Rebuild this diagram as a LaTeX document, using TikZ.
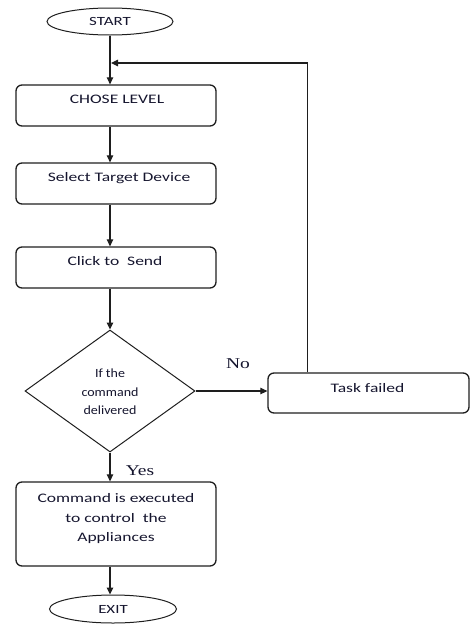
\documentclass[tikz,border=0pt]{standalone}
\usepackage{fontspec}
\setmainfont{Carlito}[FakeStretch=1.35]
\newfontfamily\diafont{Carlito}[FakeStretch=1.12]
\newfontfamily\ynfont{Liberation Serif}[FakeStretch=1.3]
\usetikzlibrary{shapes.geometric,arrows.meta,calc}
\definecolor{lc}{HTML}{1E1E1E}
\definecolor{tc}{HTML}{15152E}
\tikzset{
  box/.style={draw=lc, line width=1.3pt, rounded corners=6pt, minimum width=200pt, minimum height=41pt, inner sep=0pt},
  term/.style={ellipse, draw=lc, line width=1pt, minimum width=126pt, minimum height=27pt, inner sep=0pt, text=tc, font=\fontsize{12.5}{15}\selectfont},
  lbl/.style={text=tc, font=\fontsize{13}{19.5}\selectfont, align=center, inner sep=0pt},
  dlbl/.style={text=tc, font=\diafont\fontsize{12.5}{18.5}\selectfont, align=center, inner sep=0pt},
  yn/.style={text=tc, font=\ynfont\fontsize{15}{18}\selectfont, inner sep=0pt},
  arr/.style={line width=1.2pt, draw=lc, -{Triangle[length=7pt,width=6.5pt]}},
}
\begin{document}
\begin{tikzpicture}[x=1pt,y=-1pt]
\useasboundingbox (0,0) rectangle (472,624);
% terminals
\node[term] (start) at (110,21.5) {START};
\node[term, minimum width=127pt, minimum height=28pt] (exit) at (113,609) {EXIT};
% boxes
\node[box] (b1) at (116,105.5) {};
\node[lbl] (t1) at (117,99.5) {CHOSE LEVEL};
\node[box] (b2) at (116,183.5) {};
\node[lbl] (t2) at (119,178.5) {Select Target Device};
\node[box] (b3) at (116,267.5) {};
\node[lbl] (t3) at (115,261.5) {Click to\ \ Send};
\node[diamond, draw=lc, line width=1pt, minimum width=170pt, minimum height=122pt, inner sep=0pt] (d) at (110,391) {};
\node[dlbl] (td) at (110,392) {If the\\command\\delivered};
\node[box, minimum width=201pt, minimum height=40pt] (tf) at (368.5,393) {};
\node[lbl] (ttf) at (367.5,388) {Task failed};
\node[box, minimum height=84pt] (b4) at (116,524) {};
\node[lbl] (t4) at (116,519) {Command is executed\\to control\ \ the\\Appliances};
% labels
\node[yn] (no) at (238,364) {No};
\node[yn] (yes) at (140,471) {Yes};
% connectors
\coordinate (join) at (110,63);
\draw[arr] (start.south) -- (start.south |- b1.north);
\draw[arr] (b1.south -| start) -- (b2.north -| start);
\draw[arr] (b2.south -| start) -- (b3.north -| start);
\draw[arr] (b3.south -| start) -- (d.north);
\draw[arr] (d.east) -- (d.east -| tf.west);
\draw[arr] (d.south) -- (d.south |- b4.north);
\draw[arr] (b4.south -| start) -- (exit.north -| start);
\coordinate (up) at ($(tf.north west)+(40,0)$);
\draw[arr] (up) -- (up |- join) -- ([xshift=1pt]join);
\end{tikzpicture}
\end{document}
